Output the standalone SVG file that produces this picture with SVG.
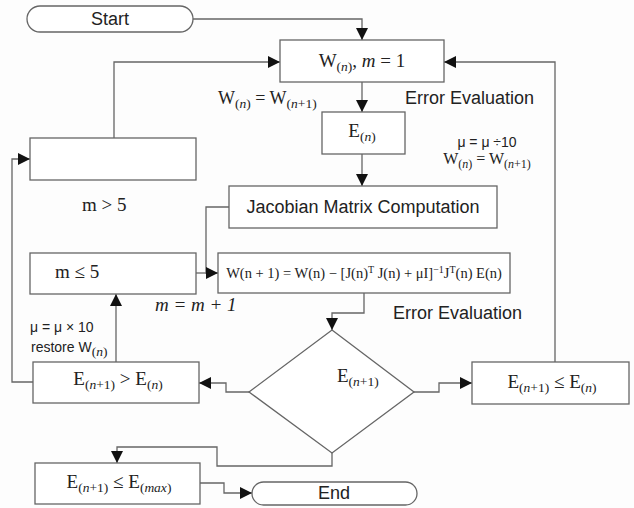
<svg xmlns="http://www.w3.org/2000/svg" width="634" height="508" viewBox="0 0 634 508">
<defs>
<marker id="ah" markerUnits="userSpaceOnUse" markerWidth="12" markerHeight="12" refX="12" refY="6" orient="auto">
<path d="M0,0 L12,6 L0,12 z" fill="#111"/>
</marker>
<style>
.box{fill:#fff;stroke:#666;stroke-width:1.3}
.ln{fill:none;stroke:#666;stroke-width:1.3}
.arr{marker-end:url(#ah)}
.sans{font-family:"Liberation Sans",Arial,sans-serif;font-size:18px;fill:#222}
.small{font-family:"Liberation Sans",Arial,sans-serif;font-size:14px;fill:#222}
.math{font-family:"Liberation Serif","Times New Roman",serif;font-size:19px;fill:#222}
.f{font-family:"Liberation Serif","Times New Roman",serif;font-size:14.5px;fill:#222}
.it{font-style:italic}
.sub{font-size:13.5px}
</style>
</defs>
<rect width="634" height="508" fill="#fdfdfd"/>

<g id="connectors">
<path class="ln arr" d="M193,19 H362 V40"/>
<path class="ln arr" d="M114,138 V62 H280"/>
<path class="ln arr" d="M555,362 V62 H444"/>
<path class="ln arr" d="M362,82 V112"/>
<path class="ln arr" d="M362,154 V186"/>
<path class="ln arr" d="M229,207 H206 V273 H218"/>
<path class="ln" d="M196,273 H206"/>
<path class="ln arr" d="M364,293 V313 H332 V330"/>
<path class="ln arr" d="M414,392 H439 V383 H472"/>
<path class="ln arr" d="M249,392 H226 V383 H199"/>
<path class="ln arr" d="M116,362 V294"/>
<path class="ln arr" d="M33,382 H12 V159 H30"/>
<path class="ln arr" d="M332,453 V466 H217 V447 H117 V463"/>
<path class="ln arr" d="M200,483 H224 V493 H252"/>
</g>

<g id="start">
<rect class="box" x="27" y="6" width="166" height="26" rx="13"/>
<text class="sans" x="110" y="25" text-anchor="middle">Start</text>
</g>

<g id="init">
<rect class="box" x="280" y="40" width="164" height="42"/>
<text class="math" x="362" y="67" text-anchor="middle">W<tspan class="sub" dy="4">(<tspan class="it">n</tspan>)</tspan><tspan dy="-4">, </tspan><tspan class="it">m</tspan> = 1</text>
</g>

<g id="error">
<rect class="box" x="322" y="112" width="83" height="42"/>
<text class="math" x="362" y="137" text-anchor="middle">E<tspan class="sub" dy="4">(<tspan class="it">n</tspan>)</tspan></text>
</g>

<g id="jacobian">
<rect class="box" x="229" y="186" width="268" height="42"/>
<text class="sans" x="363" y="213" text-anchor="middle">Jacobian Matrix Computation</text>
</g>

<g id="blank">
<rect class="box" x="30" y="138" width="166" height="42"/>
</g>

<g id="mle5">
<rect class="box" x="30" y="253" width="166" height="41"/>
<text class="math" x="55" y="278">m ≤ 5</text>
</g>

<g id="update">
<rect class="box" x="218" y="253" width="292" height="40"/>
<text class="f" x="364" y="278" text-anchor="middle">W(n + 1) = W(n) − [J(n)<tspan font-size="10" dy="-5">T</tspan><tspan dy="5"> J(n) + μI]</tspan><tspan font-size="10" dy="-5">−1</tspan><tspan dy="5">J</tspan><tspan font-size="10" dy="-5">T</tspan><tspan dy="5">(n) E(n)</tspan></text>
</g>

<g id="decision">
<polygon class="box" points="332,330 414,392 332,453 249,392"/>
<text class="math" x="337" y="382">E<tspan class="sub" dy="4">(<tspan class="it">n</tspan>+1)</tspan></text>
</g>

<g id="worse">
<rect class="box" x="33" y="362" width="166" height="41"/>
<text class="math" x="118" y="385" text-anchor="middle">E<tspan class="sub" dy="4">(<tspan class="it">n</tspan>+1)</tspan><tspan dy="-4"> &gt; E</tspan><tspan class="sub" dy="4">(<tspan class="it">n</tspan>)</tspan></text>
</g>

<g id="better">
<rect class="box" x="472" y="362" width="157" height="42"/>
<text class="math" x="552" y="388" text-anchor="middle">E<tspan class="sub" dy="4">(<tspan class="it">n</tspan>+1)</tspan><tspan dy="-4"> ≤ E</tspan><tspan class="sub" dy="4">(<tspan class="it">n</tspan>)</tspan></text>
</g>

<g id="emax">
<rect class="box" x="35" y="463" width="165" height="41"/>
<text class="math" x="119" y="488" text-anchor="middle">E<tspan class="sub" dy="4">(<tspan class="it">n</tspan>+1)</tspan><tspan dy="-4"> ≤ E</tspan><tspan class="sub" dy="4">(<tspan class="it">max</tspan>)</tspan></text>
</g>

<g id="end">
<rect class="box" x="252" y="482" width="165" height="23" rx="11.5"/>
<text class="sans" x="334" y="499" text-anchor="middle">End</text>
</g>

<g id="labels">
<text class="math" x="218" y="104" style="font-size:18px">W<tspan class="sub" dy="4">(<tspan class="it">n</tspan>)</tspan><tspan dy="-4"> = W</tspan><tspan class="sub" dy="4">(<tspan class="it">n</tspan>+1)</tspan></text>
<text class="sans" x="405" y="104">Error Evaluation</text>
<text class="small" x="487" y="147" text-anchor="middle">μ = μ ÷10</text>
<text class="math" x="487" y="164" text-anchor="middle" style="font-size:16px">W<tspan style="font-size:12px" dy="4">(<tspan class="it">n</tspan>)</tspan><tspan dy="-4"> = W</tspan><tspan style="font-size:12px" dy="4">(<tspan class="it">n</tspan>+1)</tspan></text>
<text class="math" x="82" y="211">m &gt; 5</text>
<text class="math it" x="155" y="311">m = m + 1</text>
<text class="sans" x="393" y="319">Error Evaluation</text>
<text class="small" x="30" y="332">μ = μ × 10</text>
<text class="small" x="31" y="352">restore W<tspan class="sub" dy="4" style="font-family:'Liberation Serif',serif">(<tspan class="it">n</tspan>)</tspan></text>
</g>
</svg>
